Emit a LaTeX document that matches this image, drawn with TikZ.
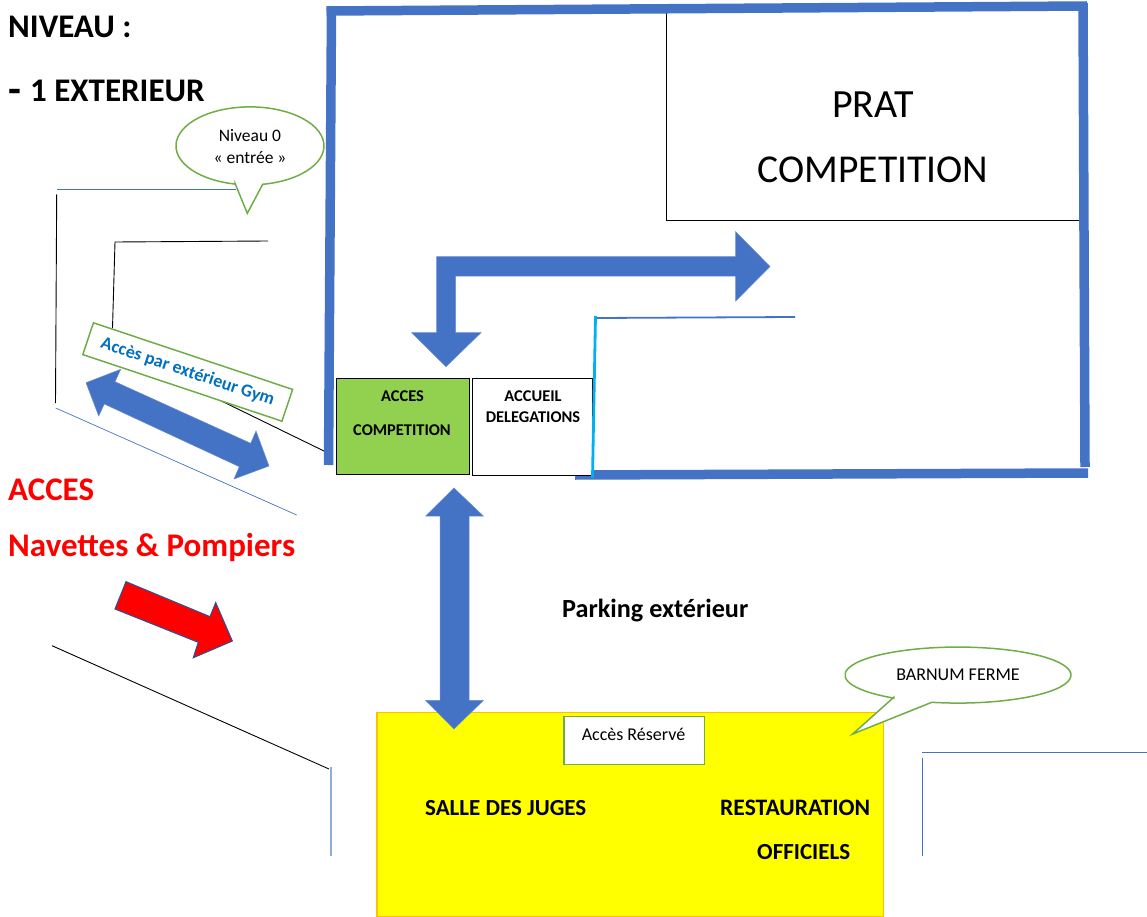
\documentclass[tikz,border=0pt]{standalone}
\usepackage{fontspec}
\setmainfont{Carlito}
\definecolor{bl}{HTML}{4472C4}
\definecolor{gr}{HTML}{70AD47}
\definecolor{lime}{HTML}{92D050}
\definecolor{cy}{HTML}{00B0F0}
\definecolor{pale}{HTML}{8FAADC}
\definecolor{txtblue}{HTML}{0070C0}
\definecolor{redline}{HTML}{2F528F}
\definecolor{gold}{HTML}{FFC000}
\definecolor{yel}{HTML}{FFFF00}
\definecolor{rd}{HTML}{FF0000}
\tikzset{
  frameline/.style={draw=bl,line width=9.5pt,line cap=butt},
  thinblue/.style={draw=bl,line width=0.9pt},
  thinblack/.style={draw=black,line width=0.9pt},
  bigarrow/.style={fill=bl,draw=bl!80!white,line width=0.5pt},
  bubble/.style={fill=white,draw=gr,line width=1.5pt,line join=miter},
  lbl/.style={inner sep=0pt,anchor=base},
  lblw/.style={inner sep=0pt,anchor=base west},
}
\newcommand{\fs}[1]{\fontsize{#1}{#1}\selectfont}
\begin{document}
\begin{tikzpicture}[x=1pt,y=-1pt]
\useasboundingbox (0,0) rectangle (1147,917);
% outlines of the roads
\draw[thinblue] (57,189) -- (236,189);
\draw[thinblack] (56.7,194.5) -- (55.5,403);
\draw[thinblack] (268,241) -- (115,242) -- (112.5,328);
\draw[thinblack] (205,393) -- (326,452);
\draw[draw=bl,line width=0.7pt] (55.7,408) -- (296.7,515);
\draw[thinblack] (52,645.7) -- (329,769);
\draw[draw=pale,line width=1.1pt] (331,767) -- (331,856);
\draw[thinblue] (922,752) -- (1147,752);
\draw[thinblue] (922,758) -- (922,856);
% prat rectangle
\node[draw=black,line width=0.8pt,fill=white,inner sep=0pt,minimum width=414pt,minimum height=210pt,anchor=north west] (prat) at (666,10) {};
\node[lbl] (pratA) at (873,118) {\fs{40}PRAT};
\node[lbl] (pratB) at (873,183) {\fs{39.5}COMPETITION};
% thick frame
\draw[frameline] (331.5,8) -- (328.5,465);
\draw[frameline] (326.5,11) -- (1087,6);
\draw[frameline] (1083,3) -- (1085,467);
\draw[frameline] (575,475) -- (1088,473);
% elbow arrow
\fill[bigarrow] (770,266.5) -- (735.7,231.7) -- (735.7,256.7) -- (436.7,256.7) -- (436.7,332.7) -- (411.7,332.7) -- (446,366.7) -- (481,332.7) -- (455.7,332.7) -- (455.7,276) -- (735.7,276) -- (735.7,301) -- cycle;
% boxes
\node[draw=black,line width=0.8pt,fill=lime,minimum width=133pt,minimum height=96pt,inner sep=0pt,anchor=north west] (acces) at (335.7,378.3) {};
\node[draw=black,line width=0.8pt,fill=white,minimum width=120pt,minimum height=97pt,inner sep=0pt,anchor=north west] (accueil) at (472,378.3) {};
\node[lbl] (accesA) at (402.5,401) {\fs{16.4}\bfseries ACCES};
\node[lbl] (accesB) at (402,435) {\fs{16.4}\bfseries COMPETITION};
\node[lbl] (accueilA) at (533,401) {\fs{16.4}\bfseries ACCUEIL};
\node[lbl] (accueilB) at (533,422) {\fs{16.4}\bfseries DELEGATIONS};
% accueil lines
\draw[draw=cy,line width=2.8pt] (595.5,316) -- (592.5,478);
\draw[draw=bl,line width=1.8pt] (597,318) -- (795,317);
% yellow
\node[draw=gold,line width=1.1pt,fill=yel,minimum width=506.5pt,minimum height=204.3pt,inner sep=0pt,anchor=north west] (barnum) at (376.4,711.7) {};
\node[draw=gr,line width=1.5pt,fill=white,minimum width=140.3pt,minimum height=48pt,inner sep=0pt,anchor=north west] (reserve) at (563.2,715.7) {};
\node[lbl] (reserveT) at (633.5,740) {\fs{18}Accès Réservé};
% vertical double arrow
\fill[bigarrow] (454,488) -- (425.7,516) -- (440,516) -- (440,700.3) -- (425.5,700.3) -- (454,729) -- (483.5,700.3) -- (469,700.3) -- (469,516) -- (483.3,516) -- cycle;
% diagonal double arrow
\fill[bigarrow] (86,382.7) -- (120.7,369.3) -- (115,381.7) -- (250.7,443.3) -- (256,431) -- (269,466) -- (234,479) -- (239.3,466.7) -- (104.3,404) -- (98.7,416) -- cycle;
% red arrow
\draw[fill=rd,draw=redline,line width=1.1pt,line join=miter] (126,581.7) -- (115,609) -- (198.3,642.3) -- (193.3,657.7) -- (232.3,641) -- (215.7,602.7) -- (210,616.7) -- cycle;
% rotated label
\node[draw=gr,line width=1.5pt,fill=white,rotate=-18.5,minimum width=210pt,minimum height=33.5pt,inner sep=0pt] (gym) at (187.7,372) {\textcolor{txtblue}{\fs{18}\bfseries Accès par extérieur Gym}};
% callouts
\draw[bubble] (235,183.3) -- (247.3,213.3) -- (262.7,184.3) arc[start angle=80.1,end angle=-258.3,x radius=74,y radius=39] -- cycle;
\node[lbl] (n0a) at (250,142) {\fs{17.5}Niveau 0};
\node[lbl] (n0b) at (250,164) {\fs{17.5}« entrée »};
\draw[bubble] (893.8,697.3) -- (852.7,734) -- (931.8,702.3) arc[start angle=103.4,end angle=-235.4,x radius=113,y radius=28] -- cycle;
\node[lbl] (barnumT) at (958,680) {\fs{18}BARNUM FERME};
% titles
\node[lblw] (t1) at (8,38) {\fs{33}\bfseries NIVEAU :};
\node[lblw] (t2) at (8,104) {\fs{42}\bfseries -};
\node[lblw] (t3) at (30,102) {\fs{33}\bfseries 1 EXTERIEUR};
\node[lblw,text=rd] (t4) at (8,500) {\fs{33}\bfseries ACCES};
\node[lblw,text=rd] (t5) at (8,556) {\fs{33}\bfseries Navettes \& Pompiers};
\node[lblw] (t6) at (562,617) {\fs{26.2}\bfseries Parking extérieur};
\node[lblw] (t7) at (425,815) {\fs{23}\bfseries SALLE DES JUGES};
\node[lblw] (t8) at (720,815) {\fs{23.6}\bfseries RESTAURATION};
\node[lblw] (t9) at (757,859) {\fs{23}\bfseries OFFICIELS};
\end{tikzpicture}
\end{document}
